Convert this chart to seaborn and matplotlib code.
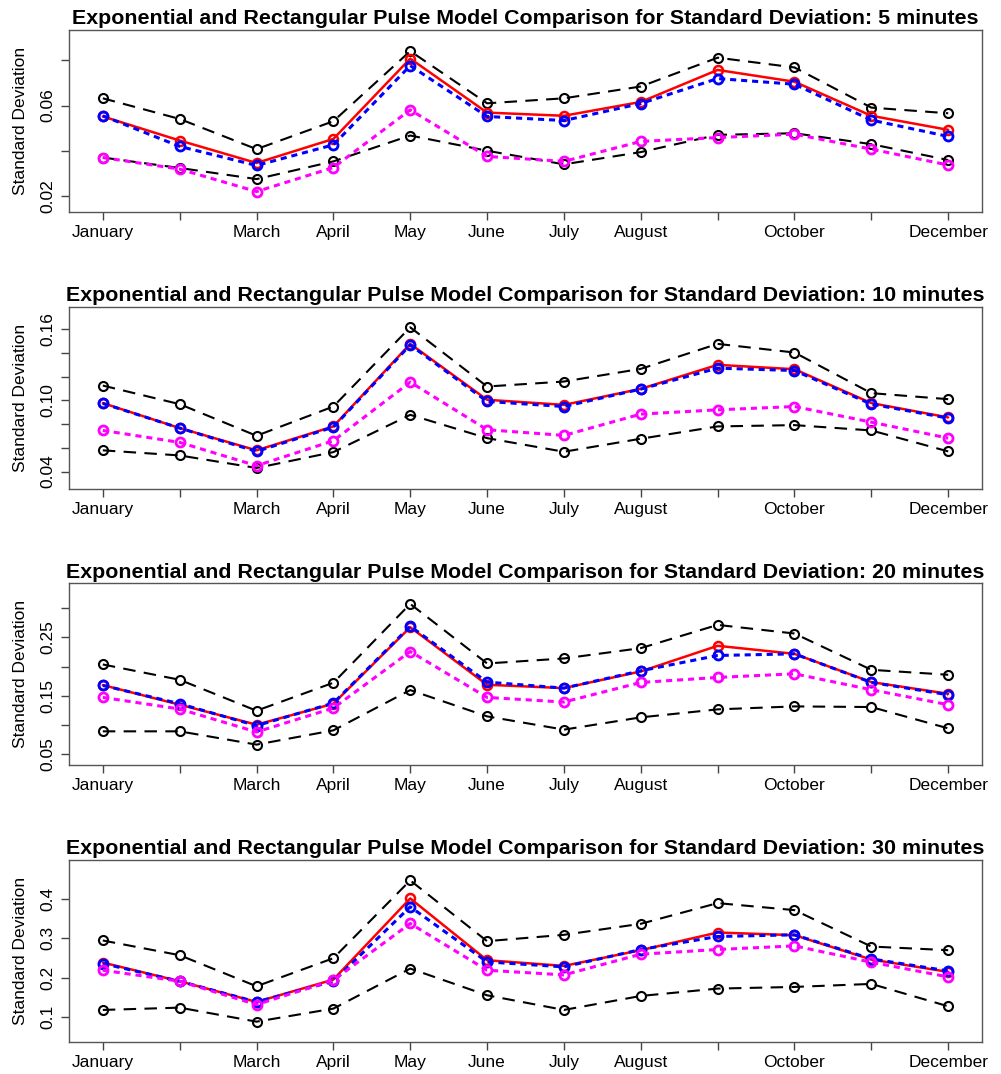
import numpy as np
import pandas as pd
import matplotlib
matplotlib.use('Agg')
import matplotlib.pyplot as plt
import seaborn as sns

# ── Data ─────────────────────────────────────────────────────
months = list(range(1, 13))
month_labels = ['January', '', 'March', 'April', 'May', 'June',
                'July', 'August', '', 'October', '', 'December']

durations = ['5 minutes', '10 minutes', '20 minutes', '30 minutes']

upper_5  = [0.0632, 0.0541, 0.0408, 0.0531, 0.0840, 0.0610, 0.0632, 0.0684, 0.0811, 0.0768, 0.0591, 0.0566]
expo_5   = [0.0552, 0.0446, 0.0347, 0.0453, 0.0807, 0.0569, 0.0555, 0.0616, 0.0757, 0.0705, 0.0555, 0.0493]
rect_5   = [0.0555, 0.0420, 0.0336, 0.0427, 0.0776, 0.0552, 0.0534, 0.0609, 0.0719, 0.0694, 0.0536, 0.0464]
obs_5    = [0.0371, 0.0320, 0.0221, 0.0327, 0.0581, 0.0376, 0.0354, 0.0442, 0.0459, 0.0474, 0.0408, 0.0338]
lower_5  = [0.0371, 0.0325, 0.0276, 0.0354, 0.0468, 0.0401, 0.0341, 0.0395, 0.0471, 0.0478, 0.0430, 0.0360]

upper_10 = [0.1126, 0.0969, 0.0702, 0.0949, 0.1618, 0.1118, 0.1160, 0.1267, 0.1478, 0.1405, 0.1062, 0.1011]
expo_10  = [0.0978, 0.0767, 0.0579, 0.0781, 0.1478, 0.1006, 0.0963, 0.1098, 0.1301, 0.1264, 0.0978, 0.0857]
rect_10  = [0.0975, 0.0767, 0.0570, 0.0775, 0.1469, 0.0992, 0.0949, 0.1096, 0.1273, 0.1253, 0.0969, 0.0851]
obs_10   = [0.0747, 0.0646, 0.0449, 0.0660, 0.1155, 0.0753, 0.0705, 0.0885, 0.0921, 0.0949, 0.0817, 0.0682]
lower_10 = [0.0579, 0.0536, 0.0430, 0.0564, 0.0879, 0.0682, 0.0567, 0.0677, 0.0781, 0.0792, 0.0747, 0.0570]

upper_20 = [0.2037, 0.1774, 0.1243, 0.1723, 0.3076, 0.2054, 0.2140, 0.2317, 0.2716, 0.2568, 0.1945, 0.1860]
expo_20  = [0.1683, 0.1346, 0.1003, 0.1363, 0.2676, 0.1688, 0.1631, 0.1917, 0.2357, 0.2219, 0.1734, 0.1534]
rect_20  = [0.1677, 0.1363, 0.0986, 0.1374, 0.2693, 0.1734, 0.1631, 0.1928, 0.2191, 0.2219, 0.1728, 0.1517]
obs_20   = [0.1471, 0.1272, 0.0878, 0.1289, 0.2259, 0.1471, 0.1392, 0.1728, 0.1814, 0.1877, 0.1603, 0.1346]
lower_20 = [0.0889, 0.0889, 0.0661, 0.0906, 0.1597, 0.1146, 0.0918, 0.1129, 0.1266, 0.1317, 0.1306, 0.0940]

upper_30 = [0.2946, 0.2571, 0.1778, 0.2494, 0.4479, 0.2929, 0.3091, 0.3372, 0.3900, 0.3721, 0.2792, 0.2699]
expo_30  = [0.2383, 0.1906, 0.1378, 0.1949, 0.4019, 0.2443, 0.2298, 0.2699, 0.3150, 0.3082, 0.2460, 0.2145]
rect_30  = [0.2358, 0.1906, 0.1378, 0.1906, 0.3806, 0.2400, 0.2273, 0.2716, 0.3048, 0.3091, 0.2477, 0.2170]
obs_30   = [0.2187, 0.1906, 0.1310, 0.1932, 0.3380, 0.2187, 0.2068, 0.2596, 0.2716, 0.2809, 0.2392, 0.2017]
lower_30 = [0.1174, 0.1233, 0.0875, 0.1208, 0.2230, 0.1548, 0.1174, 0.1531, 0.1719, 0.1761, 0.1838, 0.1267]

panel_data = [
    (upper_5, lower_5, expo_5, rect_5, obs_5),
    (upper_10, lower_10, expo_10, rect_10, obs_10),
    (upper_20, lower_20, expo_20, rect_20, obs_20),
    (upper_30, lower_30, expo_30, rect_30, obs_30),
]

y_ticks = [[0.02, 0.04, 0.06, 0.08],
           [0.04, 0.06, 0.08, 0.10, 0.12, 0.14, 0.16],
           [0.05, 0.10, 0.15, 0.20, 0.25, 0.30],
           [0.1, 0.2, 0.3, 0.4]]
y_tick_labels = [['0.02', '', '0.06', ''],
                 ['0.04', '', '', '0.10', '', '', '0.16'],
                 ['0.05', '', '0.15', '', '0.25', ''],
                 ['0.1', '0.2', '0.3', '0.4']]
y_limits = [(0.0131, 0.0933), (0.0255, 0.1792), (0.0306, 0.343), (0.0356, 0.500)]

# ── Style ────────────────────────────────────────────────────
sns.set_style('white')
plt.rcParams['font.family'] = ['Liberation Sans', 'DejaVu Sans']
plt.rcParams['text.color'] = 'black'
plt.rcParams['axes.labelcolor'] = 'black'
plt.rcParams['xtick.labelcolor'] = 'black'
plt.rcParams['ytick.labelcolor'] = 'black'

# per series: color, linestyle, line width, marker edge width
series_style = [
    ('black',   (0, (6, 4)),   1.5, 1.5),
    ('black',   (0, (6, 4)),   1.5, 1.5),
    ('#FF0000', '-',           1.8, 1.8),
    ('#0000FF', (0, (2, 1.6)), 2.2, 2.0),
    ('#FF00FF', (0, (2, 1.6)), 2.2, 2.0),
]

W, H = 1001, 1074
fig = plt.figure(figsize=(W / 100, H / 100), dpi=100)

ax_left, ax_right = 69, 982
ax_tops = [30, 306.7, 583.3, 860]
ax_h = 182

for i, series in enumerate(panel_data):
    top = ax_tops[i]
    ax = fig.add_axes([ax_left / W, 1 - (top + ax_h) / H,
                       (ax_right - ax_left) / W, ax_h / H])

    for values, (col, ls, lw, mew) in zip(series, series_style):
        df = pd.DataFrame({'month': months, 'sd': values})
        sns.lineplot(data=df, x='month', y='sd', ax=ax, color=col, linestyle=ls,
                     lw=lw, marker='o', markersize=6.5, markerfacecolor='none',
                     markeredgecolor=col, markeredgewidth=mew)

    ax.set_xlim(0.56, 12.44)
    ax.set_ylim(*y_limits[i])
    ax.set_xticks(months)
    ax.set_xticklabels(month_labels, fontsize=12.5)
    ax.set_yticks(y_ticks[i])
    ax.set_yticklabels(y_tick_labels[i], fontsize=12.5, rotation=90, va='center')
    ax.tick_params(axis='both', direction='out', length=6, width=1, color='#444444',
                   labelcolor='black', bottom=True, left=True, pad=3.5)
    ax.set_xlabel('')
    ax.set_ylabel('Standard Deviation', fontsize=12.5, color='black')
    ax.yaxis.set_label_coords(-0.045, 0.5)
    for sp in ax.spines.values():
        sp.set_visible(True)
        sp.set_color('#555555')
        sp.set_linewidth(1)
    ax.set_title('Exponential and Rectangular Pulse Model Comparison for Standard Deviation: '
                 + durations[i], fontsize=15.4, fontweight='bold', color='black', pad=4)

fig.savefig('out.png', dpi=100)
